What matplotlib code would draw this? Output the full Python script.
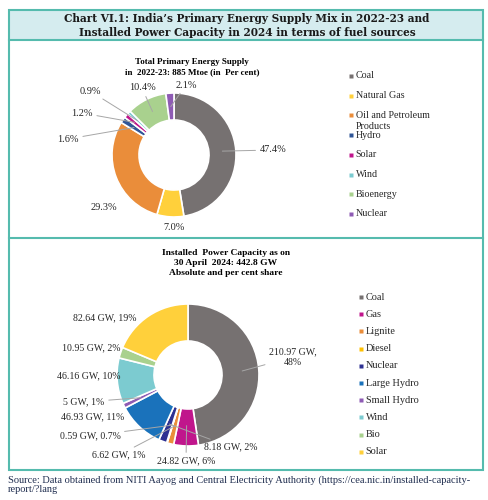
import numpy as np
import matplotlib
matplotlib.use("Agg")
import matplotlib.pyplot as plt
from matplotlib.patches import Rectangle

# DATA
pes_labels = ["Coal", "Natural Gas", "Oil and Petroleum\nProducts", "Hydro",
              "Solar", "Wind", "Bioenergy", "Nuclear"]
pes_share = [47.4, 7.0, 29.3, 1.6, 1.2, 0.9, 10.4, 2.1]
pes_text = ["47.4%", "7.0%", "29.3%", "1.6%", "1.2%", "0.9%", "10.4%", "2.1%"]

cap_labels = ["Coal", "Gas", "Lignite", "Diesel", "Nuclear", "Large Hydro",
              "Small Hydro", "Wind", "Bio", "Solar"]
cap_gw = [210.97, 24.82, 6.62, 0.59, 8.18, 46.93, 5.0, 46.16, 10.95, 82.64]
cap_text = ["210.97 GW,\n48%", "24.82 GW, 6%", "6.62 GW, 1%", "0.59 GW, 0.7%",
            "8.18 GW, 2%", "46.93 GW, 11%", "5 GW, 1%", "46.16 GW, 10%",
            "10.95 GW, 2%", "82.64 GW, 19%"]

# STYLE
pes_colors = ["#767171", "#FFD03B", "#EA8D3A", "#2F5597", "#C0168C",
              "#7CCBD0", "#A9D18E", "#8E5BB4"]
cap_colors = ["#767171", "#C0168C", "#EA8D3A", "#FFC000", "#2E3192",
              "#1A72BB", "#8E5BB4", "#7CCBD0", "#A9D18E", "#FFD03B"]
teal = "#55BBAE"
serif = "Liberation Serif"
line_c = "#A6A6A6"

# label layout (x, y in pixels, leader-line radius fraction or None)
pes_pos = [(273, 150, 0.5), (174, 227, None), (104, 208, None), (68, 139, 0.5),
           (82, 113, 0.6), (90, 91, 0.55), (142, 88, 0.5), (186, 85, 0.5)]
cap_pos = [(293, 357, 0.55), (186, 461, 0.45), (119, 455, 0.5), (90, 436, 0.5),
           (231, 447, 0.5), (93, 417, None), (84, 402, 0.5), (89, 376, None),
           (91, 348, None), (105, 318, None)]

W, H = 489, 500
fig = plt.figure(figsize=(W / 100, H / 100), dpi=100)
ax = fig.add_axes([0, 0, 1, 1])


def donut(values, colors, texts, pos, cx, cy, r, width, fs):
    ax.pie(values, colors=colors, center=(cx, cy), radius=r, startangle=-90,
           counterclock=True,
           wedgeprops=dict(width=width, edgecolor="white", linewidth=1.2))
    frac = np.cumsum(values) / np.sum(values)
    mids = frac - np.array(values) / np.sum(values) / 2
    for t, (lx, ly, rf), m in zip(texts, pos, mids):
        if rf is None:
            ax.text(lx, ly, t, ha="center", va="center", fontsize=fs,
                    family=serif, color="#262626")
            continue
        th = np.deg2rad(-90 + 360 * m)
        rr = r - width * (1 - rf)
        ax.annotate(t, xy=(cx + rr * np.cos(th), cy + rr * np.sin(th)),
                    xytext=(lx, ly), ha="center", va="center", fontsize=fs,
                    family=serif, color="#262626",
                    arrowprops=dict(arrowstyle="-", color=line_c, lw=0.7,
                                    shrinkA=1, shrinkB=0))


def legend(labels, colors, x, y0, step, fs):
    for i, (lab, c) in enumerate(zip(labels, colors)):
        y = y0 + i * step
        ax.plot(x, y, "s", ms=2.6, color=c, mec="none")
        ax.text(x + 4.5, y, lab.split("\n")[0], va="center", fontsize=fs,
                family=serif, color="#262626")
        for k, extra in enumerate(lab.split("\n")[1:]):
            ax.text(x + 4.5, y + 11 * (k + 1), extra, va="center", fontsize=fs,
                    family=serif, color="#262626")


donut(pes_share, pes_colors, pes_text, pes_pos, 174, 155, 62, 27, 7.4)
donut(cap_gw, cap_colors, cap_text, cap_pos, 188, 375, 71, 37, 7.1)
legend(pes_labels, pes_colors, 351, 76, 19.7, 7.2)
legend(cap_labels, cap_colors, 361, 297, 17.2, 7.4)

# frame and title band
ax.add_patch(Rectangle((9, 10), 474, 30, facecolor="#D5ECEF", edgecolor="none", zorder=0))
ax.add_patch(Rectangle((9, 10), 474, 460, facecolor="none", edgecolor=teal, lw=1.5))
ax.plot([9, 483], [40, 40], color=teal, lw=1.5)
ax.plot([9, 483], [238, 238], color=teal, lw=1.5)

ax.text(247, 19, "Chart VI.1: India’s Primary Energy Supply Mix in 2022-23 and",
        ha="center", va="center", fontsize=7.6, fontweight="bold",
        family="DejaVu Serif", color="#1a1a1a")
ax.text(247, 32, "Installed Power Capacity in 2024 in terms of fuel sources",
        ha="center", va="center", fontsize=7.6, fontweight="bold",
        family="DejaVu Serif", color="#1a1a1a")

ax.text(192, 67, "Total Primary Energy Supply\nin  2022-23: 885 Mtoe (in  Per cent)",
        ha="center", va="center", fontsize=6.5, fontweight="bold", family=serif,
        linespacing=1.3)
ax.text(226, 263, "Installed  Power Capacity as on\n30 April  2024: 442.8 GW\nAbsolute and per cent share",
        ha="center", va="center", fontsize=6.8, fontweight="bold", family=serif,
        linespacing=1.3)

ax.text(8, 480, "Source: Data obtained from NITI Aayog and Central Electricity Authority (https://cea.nic.in/installed-capacity-",
        va="center", fontsize=7.5, family=serif, color="#1F2D4F")
ax.text(8, 490, "report/?lang", va="center", fontsize=7.5, family=serif, color="#1F2D4F")

ax.set_xlim(0, W)
ax.set_ylim(H, 0)
ax.set_aspect("auto")
ax.axis("off")

fig.savefig("out.png", dpi=100)
